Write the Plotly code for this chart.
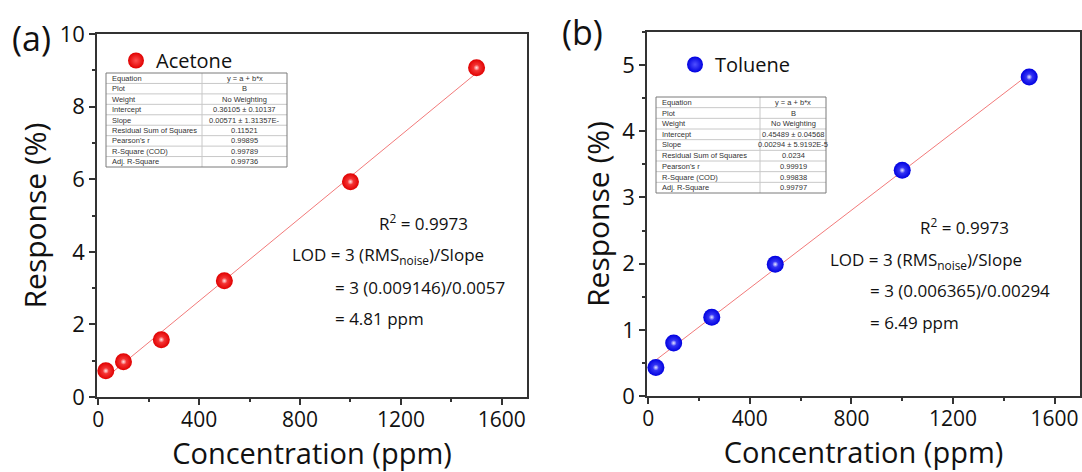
import plotly.graph_objects as go

W, H = 1082, 472

# ---- data ----
conc = [30, 100, 250, 500, 1000, 1500]
acetone_resp = [0.72, 0.97, 1.58, 3.20, 5.93, 9.07]
toluene_resp = [0.43, 0.80, 1.19, 1.99, 3.41, 4.82]

acetone_fit = {"intercept": 0.36105, "slope": 0.00571}
toluene_fit = {"intercept": 0.45489, "slope": 0.00294}

table_labels = ["Equation", "Plot", "Weight", "Intercept", "Slope",
                "Residual Sum of Squares", "Pearson's r", "R-Square (COD)", "Adj. R-Square"]
acetone_table = ["y = a + b*x", "B", "No Weighting", "0.36105 \u00b1 0.10137",
                 "0.00571 \u00b1 1.31357E-", "0.11521", "0.99895", "0.99789", "0.99736"]
toluene_table = ["y = a + b*x", "B", "No Weighting", "0.45489 \u00b1 0.04568",
                 "0.00294 \u00b1 5.9192E-5", "0.0234", "0.99919", "0.99838", "0.99797"]

x_ticks = [0, 400, 800, 1200, 1600]

FONT = "Open Sans"
TFONT = "Liberation Sans"


def px(x):
    return x / W


def py(y):
    return 1 - y / H


fig = go.Figure()

def add_panel(resp, fit, color, grad, name, xa, ya, legend):
    xs = [conc[0], conc[-1]]
    ys = [fit["intercept"] + fit["slope"] * v for v in xs]
    fig.add_trace(go.Scatter(x=xs, y=ys, mode="lines", xaxis=xa, yaxis=ya,
                             line=dict(color="#f27a7a", width=1), showlegend=False,
                             hoverinfo="skip"))
    fig.add_trace(go.Scatter(x=conc, y=resp, mode="markers", name=name, xaxis=xa, yaxis=ya,
                             legend=legend,
                             marker=dict(size=17, color=color,
                                         gradient=dict(type="radial", color=grad),
                                         line=dict(width=0))))
    fig.add_trace(go.Scatter(x=conc, y=resp, mode="markers", xaxis=xa, yaxis=ya,
                             showlegend=False, hoverinfo="skip",
                             marker=dict(size=6, color="rgba(255,255,255,0)",
                                         gradient=dict(type="radial", color="rgba(255,255,255,0.85)"),
                                         line=dict(width=0))))

add_panel(acetone_resp, acetone_fit, "#e00000", "#ff5050", "Acetone", "x", "y", "legend")
add_panel(toluene_resp, toluene_fit, "#0000e0", "#5050ff", "Toluene", "x2", "y2", "legend2")


def add_table(vals, x0, x1, y0, y1, xdiv):
    rows = len(table_labels)
    rh = (y1 - y0) / rows
    grid = dict(color="#c8c8c8", width=1)
    for i in range(1, rows):
        fig.add_shape(type="line", xref="paper", yref="paper",
                      x0=px(x0), x1=px(x1), y0=py(y0 + i * rh), y1=py(y0 + i * rh), line=grid)
    fig.add_shape(type="line", xref="paper", yref="paper",
                  x0=px(xdiv), x1=px(xdiv), y0=py(y0), y1=py(y1), line=grid)
    fig.add_shape(type="rect", xref="paper", yref="paper",
                  x0=px(x0), x1=px(x1), y0=py(y1), y1=py(y0),
                  line=dict(color="#7a7a7a", width=1))
    for i, (lab, val) in enumerate(zip(table_labels, vals)):
        yc = py(y0 + (i + 0.5) * rh)
        fig.add_annotation(text=lab, x=px(x0 + 4), y=yc, xref="paper", yref="paper",
                           xanchor="left", yanchor="middle", showarrow=False,
                           font=dict(family=TFONT, size=7.5, color="#333"))
        fig.add_annotation(text=val, x=px((xdiv + x1) / 2), y=yc, xref="paper", yref="paper",
                           xanchor="center", yanchor="middle", showarrow=False,
                           font=dict(family=TFONT, size=7.5, color="#333"))

add_table(acetone_table, 106, 287, 73, 167, 202)
add_table(toluene_table, 656, 826, 97, 193, 760)

axis_common = dict(showline=True, linecolor="#333", linewidth=1.5, mirror=True,
                   ticks="outside", ticklen=6, tickwidth=1.5, tickcolor="#333",
                   showgrid=False, zeroline=False, automargin=False,
                   tickfont=dict(family=FONT, size=22, color="#111"))

xaxis = dict(axis_common, range=[-5, 1700], tickvals=x_ticks, ticklabelstandoff=-3,
             tickfont=dict(family=FONT, size=21, color="#111"),
             minor=dict(ticks="outside", ticklen=3, dtick=200, tickcolor="#333", tickwidth=1.5),
             title=dict(text="Concentration (ppm)", font=dict(family=FONT, size=29, color="#111"),
                        standoff=10))

fig.update_layout(
    width=W, height=H, margin=dict(l=0, r=0, t=0, b=0, autoexpand=False),
    paper_bgcolor="white", plot_bgcolor="white",
    xaxis=dict(xaxis, domain=[px(97), px(527)], anchor="y"),
    yaxis=dict(axis_common, domain=[py(397), py(34)], range=[0, 10], dtick=2, anchor="x",
               minor=dict(ticks="outside", ticklen=3, dtick=1, tickcolor="#333", tickwidth=1.5),
               title=dict(text="Response (%)", font=dict(family=FONT, size=30, color="#111"),
                          standoff=4)),
    xaxis2=dict(xaxis, domain=[px(647), px(1080)], anchor="y2"),
    yaxis2=dict(axis_common, domain=[py(396), py(32)], range=[0, 5.5], dtick=1, anchor="x2",
                minor=dict(ticks="outside", ticklen=3, dtick=0.5, tickcolor="#333", tickwidth=1.5),
                title=dict(text="Response (%)", font=dict(family=FONT, size=30, color="#111"),
                           standoff=4)),
    legend=dict(x=px(116), y=py(41), xanchor="left", yanchor="top", bgcolor="rgba(0,0,0,0)",
                font=dict(family=FONT, size=20, color="#111"), itemsizing="trace"),
    legend2=dict(x=px(675), y=py(45), xanchor="left", yanchor="top", bgcolor="rgba(0,0,0,0)",
                 font=dict(family=FONT, size=20, color="#111"), itemsizing="trace"),
)

def note(text, x, y, size=17):
    fig.add_annotation(text=text, x=px(x), y=py(y), xref="paper", yref="paper",
                       xanchor="left", yanchor="middle", showarrow=False,
                       font=dict(family=FONT, size=size, color="#111"))

note("(a)", 10, 38, 34)
note("(b)", 560, 32, 34)

note("R<sup>2</sup> = 0.9973", 377, 222)
note("LOD = 3 (RMS<sub>noise</sub>)/Slope", 290, 255)
note("= 3 (0.009146)/0.0057", 333, 287)
note("= 4.81 ppm", 333, 318)

note("R<sup>2</sup> = 0.9973", 918, 227)
note("LOD = 3 (RMS<sub>noise</sub>)/Slope", 828, 260)
note("= 3 (0.006365)/0.00294", 868, 290)
note("= 6.49 ppm", 868, 322)

fig.write_html("out.html")
